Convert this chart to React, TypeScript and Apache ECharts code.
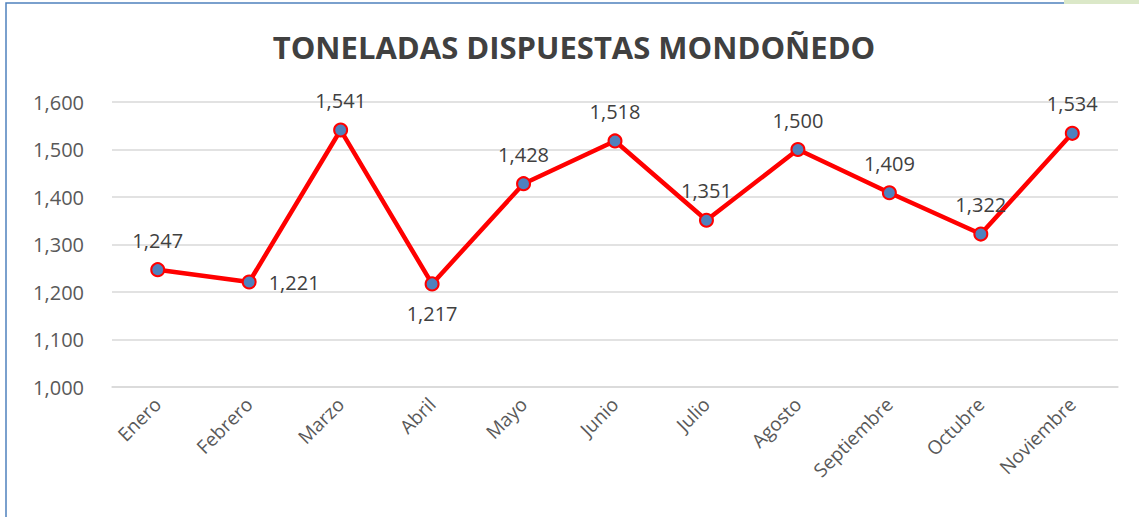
import React, { useEffect, useRef } from "react";
import * as echarts from "echarts";

const categories = ["Enero", "Febrero", "Marzo", "Abril", "Mayo", "Junio", "Julio", "Agosto", "Septiembre", "Octubre", "Noviembre"];
const toneladas = [1247, 1221, 1541, 1217, 1428, 1518, 1351, 1500, 1409, 1322, 1534];
const labelPlacement = ["top", "right", "top", "bottom", "top", "top", "top", "top", "top", "top", "top"];
const titleText = "TONELADAS DISPUESTAS MONDOÑEDO";

const fmt = (v: number) => v.toLocaleString("en-US");

export default function App() {
  const ref = useRef<HTMLDivElement>(null);
  useEffect(() => {
    document.body.style.margin = "0";
    const chart = echarts.init(ref.current!, null, { renderer: "svg" });
    const font = "'Open Sans', 'Noto Sans', sans-serif";
    chart.setOption({
      animation: false,
      backgroundColor: "#ffffff",
      textStyle: { fontFamily: font },
      graphic: [
        {
          type: "rect",
          shape: { x: 6, y: 3, width: 1300, height: 700 },
          style: { fill: "none", stroke: "#4f81bd", lineWidth: 1.5 },
          silent: true,
        },
        {
          type: "rect",
          shape: { x: 1064, y: 0, width: 80, height: 4 },
          style: { fill: "#dbe8c8", stroke: "none" },
          silent: true,
        },
        {
          type: "text",
          x: 574,
          y: 47,
          style: {
            text: titleText,
            fontSize: 31,
            fontWeight: "bold",
            fill: "#404040",
            fontFamily: font,
            align: "center",
            verticalAlign: "middle",
          },
          silent: true,
        },
      ],
      grid: { left: 112, right: 21, top: 102, bottom: 130 },
      xAxis: {
        type: "category",
        data: categories,
        boundaryGap: true,
        axisLine: { show: true, lineStyle: { color: "#d9d9d9", width: 1.5 } },
        axisTick: { show: false },
        axisLabel: { rotate: 45, fontSize: 19, color: "#595959", margin: 14, fontFamily: font },
      },
      yAxis: {
        type: "value",
        min: 1000,
        max: 1600,
        interval: 100,
        axisLine: { show: false },
        axisTick: { show: false },
        axisLabel: { fontSize: 20, color: "#595959", margin: 28, formatter: (v: number) => fmt(v), fontFamily: font },
        splitLine: { lineStyle: { color: "#d9d9d9", width: 1.5 } },
      },
      series: [
        {
          type: "line",
          data: toneladas.map((v, i) => ({
            value: v,
            label: { position: labelPlacement[i] },
          })),
          lineStyle: { color: "#ff0000", width: 4.5 },
          symbol: "circle",
          symbolSize: 13,
          itemStyle: { color: "#4f81bd", borderColor: "#ff0000", borderWidth: 2 },
          label: {
            show: true,
            fontSize: 20,
            color: "#404040",
            distance: 12,
            formatter: (p: any) => fmt(p.value),
            fontFamily: font,
          },
        },
      ],
    });
    return () => chart.dispose();
  }, []);
  return <div ref={ref} style={{ width: 1139, height: 517 }} />;
}
